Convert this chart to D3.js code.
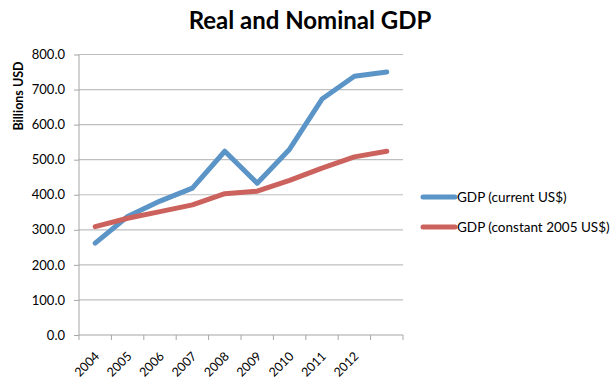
<!DOCTYPE html>
<html>
<head>
  <meta charset="utf-8">
  <script src="https://cdn.jsdelivr.net/npm/d3@7"></script>
  <style>
    body { margin: 0; background: #fff; font-family: Lato, "Open Sans", sans-serif; }
  </style>
</head>
<body>
  <main id="container"></main>
  <script>
    // data
    const years = ["2004", "2005", "2006", "2007", "2008", "2009", "2010", "2011", "2012", ""];
    const nominal = [262, 338, 382, 419, 524, 433, 530, 673, 738, 750];
    const real = [309, 333, 352, 371, 403, 410, 441, 476, 508, 524];
    const yTicks = [0, 100, 200, 300, 400, 500, 600, 700, 800];
    const seriesNames = ["GDP (current US$)", "GDP (constant 2005 US$)"];
    const colors = ["#5b94c6", "#cb625d"];

    const width = 616, height = 384;
    const plotLeft = 79, plotRight = 403, plotTop = 54.5, plotBottom = 335;

    const svg = d3.select("#container").append("svg")
      .attr("width", width)
      .attr("height", height);

    const x = d3.scaleBand().domain(d3.range(years.length)).range([plotLeft, plotRight]);
    const y = d3.scaleLinear().domain([0, 800]).range([plotBottom, plotTop]);

    // gridlines
    svg.append("g").selectAll("line")
      .data(yTicks.slice(1))
      .join("line")
      .attr("x1", plotLeft).attr("x2", plotRight)
      .attr("y1", d => y(d)).attr("y2", d => y(d))
      .attr("stroke", "#bfbfbf")
      .attr("stroke-width", 1.2);

    // y axis
    const yAxis = svg.append("g")
      .attr("transform", `translate(${plotLeft},0)`)
      .call(d3.axisLeft(y).tickValues(yTicks).tickFormat(d3.format(".1f")).tickSize(5).tickPadding(9));
    yAxis.select(".domain").attr("stroke", "#a6a6a6").attr("d", `M0,${plotBottom}V${plotTop}`);
    yAxis.selectAll(".tick line").attr("stroke", "#a6a6a6");
    yAxis.selectAll("text").attr("font-size", 13).attr("fill", "#000")
      .style("font-family", "Lato, 'Open Sans', sans-serif");

    // x axis
    const xAxis = svg.append("g")
      .attr("transform", `translate(0,${plotBottom})`);
    xAxis.append("line")
      .attr("x1", plotLeft).attr("x2", plotRight)
      .attr("stroke", "#a6a6a6").attr("stroke-width", 1.2);
    xAxis.selectAll("line.tick")
      .data(d3.range(years.length + 1))
      .join("line")
      .attr("class", "tick")
      .attr("x1", i => plotLeft + i * x.step())
      .attr("x2", i => plotLeft + i * x.step())
      .attr("y1", 0).attr("y2", 5)
      .attr("stroke", "#a6a6a6");
    xAxis.selectAll("text")
      .data(years)
      .join("text")
      .attr("transform", (d, i) => `translate(${x(i) + x.bandwidth() / 2 + 5},22) rotate(-45)`)
      .attr("text-anchor", "end")
      .attr("font-size", 12.5)
      .text(d => d);

    // lines
    const line = d3.line()
      .x((d, i) => x(i) + x.bandwidth() / 2)
      .y(d => y(d));

    svg.selectAll("path.series")
      .data([nominal, real])
      .join("path")
      .attr("class", "series")
      .attr("d", line)
      .attr("fill", "none")
      .attr("stroke", (d, i) => colors[i])
      .attr("stroke-width", 5)
      .attr("stroke-linecap", "round")
      .attr("stroke-linejoin", "round");

    // title
    svg.append("text")
      .attr("x", 310).attr("y", 29)
      .attr("text-anchor", "middle")
      .attr("font-size", 24)
      .attr("font-weight", "bold")
      .text("Real and Nominal GDP");

    // y label
    svg.append("text")
      .attr("transform", "translate(23,96) rotate(-90)")
      .attr("text-anchor", "middle")
      .attr("font-size", 12.5)
      .attr("font-weight", "bold")
      .text("Billions USD");

    // legend
    const legend = svg.append("g").selectAll("g")
      .data(seriesNames)
      .join("g")
      .attr("transform", (d, i) => `translate(423,${197 + i * 30})`);
    legend.append("line")
      .attr("x1", 0).attr("x2", 32)
      .attr("stroke", (d, i) => colors[i])
      .attr("stroke-width", 5)
      .attr("stroke-linecap", "round");
    legend.append("text")
      .attr("x", 34).attr("y", 5)
      .attr("font-size", 13.5)
      .text(d => d);
  </script>
</body>
</html>
